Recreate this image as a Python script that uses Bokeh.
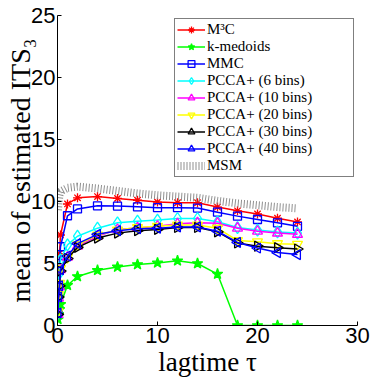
import numpy as np
from bokeh.plotting import figure
from bokeh.models import Legend, LegendItem, FixedTicker
from bokeh.embed import file_html
from bokeh.resources import INLINE

# lagtimes
lagtime = [0.05, 0.1, 0.2, 0.3, 1, 2, 4, 6, 8, 10, 12, 14, 16, 18, 20, 22, 24]

m3c       = [1.0, 2.6, 5.8, 7.3, 9.8, 10.3, 10.4, 10.25, 10.1, 9.95, 9.9, 9.9, 9.55, 9.25, 9.0, 8.65, 8.35]
kmedoids  = [0.5, 0.9, 1.3, 1.7, 3.25, 3.95, 4.45, 4.72, 4.92, 5.05, 5.22, 5.0, 4.15, 0.0, 0.0, 0.0, 0.0]
mmc       = [1.0, 2.4, 5.0, 6.35, 8.85, 9.4, 9.65, 9.63, 9.57, 9.5, 9.5, 9.47, 9.14, 8.82, 8.55, 8.28, 8.0]
pcca6     = [1.0, 2.4, 4.2, 5.3, 6.5, 7.2, 7.85, 8.28, 8.41, 8.5, 8.63, 8.63, 8.36, 7.9, 7.7, 7.55, 7.45]
pcca10    = [0.9, 2.2, 3.1, 4.5, 5.5, 6.4, 7.2, 7.74, 7.87, 8.0, 8.2, 8.28, 8.25, 7.85, 7.6, 7.45, 7.35]
pcca20    = [1.1, 2.5, 3.4, 4.6, 5.5, 6.5, 7.3, 7.7, 7.9, 8.0, 8.1, 8.1, 7.85, 6.85, 6.75, 6.6, 6.55]
pcca30    = [0.9, 2.3, 3.2, 4.4, 5.4, 6.3, 7.05, 7.45, 7.65, 7.75, 7.9, 7.9, 7.55, 6.65, 6.4, 6.28, 6.17]
pcca40    = [1.0, 2.3, 3.2, 4.5, 5.6, 6.6, 7.35, 7.65, 7.8, 7.85, 7.95, 7.95, 7.6, 6.7, 6.25, 5.88, 5.72]
msm       = [9.3, 9.9, 10.5, 10.8, 11.1, 11.2, 11.05, 10.85, 10.65, 10.5, 10.4, 10.3, 10.05, 9.85, 9.7, 9.55, 9.45]

x_ticks = [0, 10, 20, 30]
y_ticks = [0, 5, 10, 15, 20, 25]

p = figure(width=370, height=380, x_range=(0, 30), y_range=(0, 25),
           output_backend="svg", toolbar_location=None,
           min_border_left=57, min_border_right=13, min_border_top=15, min_border_bottom=55)
p.outline_line_color = None
p.xgrid.grid_line_color = None
p.ygrid.grid_line_color = None
p.background_fill_color = "white"

p.xaxis.ticker = FixedTicker(ticks=x_ticks)
p.yaxis.ticker = FixedTicker(ticks=y_ticks)
for ax in (p.xaxis[0], p.yaxis[0]):
    ax.major_tick_in = 4
    ax.major_tick_out = 0
    ax.minor_tick_in = 0
    ax.minor_tick_out = 0
    ax.axis_line_color = "black"
    ax.major_tick_line_color = "black"
    ax.major_label_text_font = "Liberation Sans"
    ax.major_label_text_font_size = "22px"
    ax.major_label_text_color = "black"
    ax.axis_label_text_font = "Liberation Serif"
    ax.axis_label_text_font_style = "normal"
    ax.axis_label_text_color = "black"
    ax.major_label_standoff = 2

p.xaxis.axis_label = "lagtime τ"
p.yaxis.axis_label = "mean of estimated ITS₃"
p.xaxis.axis_label_text_font_size = "27px"
p.yaxis.axis_label_text_font_size = "28px"
p.xaxis.axis_label_standoff = 1
p.yaxis.axis_label_standoff = -8

items = []

def series(label, ys, color, marker, size, fill=None, angle=0.0):
    ln = p.line(lagtime, ys, line_color=color, line_width=1.5)
    sc = p.scatter(lagtime, ys, marker=marker, size=size, line_color=color,
                   fill_color=fill, line_width=1.3, angle=angle)
    items.append(LegendItem(label=label, renderers=[ln, sc]))

series("M³C", m3c, "#FF0000", "asterisk", 9)
series("k-medoids", kmedoids, "#00FF00", "star", 11, fill="#00FF00")
series("MMC", mmc, "#0000FF", "square", 8)
series("PCCA+ (6 bins)", pcca6, "#00FFFF", "diamond", 12)
series("PCCA+ (10 bins)", pcca10, "#FF00FF", "triangle", 10)
series("PCCA+ (20 bins)", pcca20, "#FFFF00", "inverted_triangle", 10)
series("PCCA+ (30 bins)", pcca30, "#000000", "triangle", 10, angle=-np.pi / 2)
series("PCCA+ (40 bins)", pcca40, "#0000FF", "triangle", 10, angle=np.pi / 2)

ms = p.line(lagtime, msm, line_color="#8f8f8f", line_width=8, line_dash="1 2")
items.append(LegendItem(label="MSM", renderers=[ms]))

legend = Legend(items=items, location="top_right")
legend.margin = 3
legend.padding = 2
legend.spacing = 0
legend.glyph_width = 28
legend.glyph_height = 17
legend.label_height = 17
legend.label_width = 144
legend.label_standoff = 2
legend.label_text_font = "Liberation Serif"
legend.label_text_font_size = "15px"
legend.label_text_color = "black"
legend.border_line_color = "black"
legend.border_line_width = 1
legend.background_fill_color = "white"
legend.background_fill_alpha = 1.0
p.add_layout(legend)

open("out.html", "w").write(file_html(p, INLINE))
